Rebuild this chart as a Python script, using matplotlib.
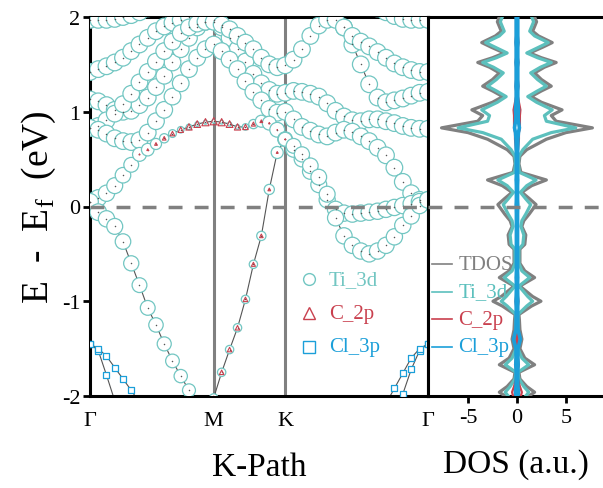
import matplotlib
matplotlib.use("Agg")
import matplotlib.pyplot as plt
import numpy as np

plt.rcParams["font.family"] = "Liberation Serif"
plt.rcParams["mathtext.fontset"] = "custom"
plt.rcParams["mathtext.rm"] = "Liberation Serif"

TEAL = "#72c6c2"
RED = "#c9404e"
BLUE = "#1b9fd9"
GRAY = "#808080"

# k-path G-M-K-G (hexagonal BZ, units of |GM|)
k_gm = np.linspace(0, 1, 16)
k_mk = np.linspace(1, 1 + 1 / np.sqrt(3), 10)[1:]
k_kg = np.linspace(1 + 1 / np.sqrt(3), 1 + np.sqrt(3), 18)[1:]
kpath = np.concatenate([k_gm, k_mk, k_kg])
k_ticks = [0, 1, 1 + 1 / np.sqrt(3), 1 + np.sqrt(3)]
k_labels = ["Γ", "M", "K", "Γ"]

# band energies (eV) along the path: 16 G-M, 9 M-K, 17 K-G points
band1 = [0.05, -0.06, -0.13, -0.21, -0.37, -0.60, -0.83, -1.07, -1.25, -1.45, -1.63, -1.79, -1.94, -2.10, -2.16, -2.02,
         -1.75, -1.51, -1.28, -0.98, -0.61, -0.31, 0.18, 0.57, 0.71,
         0.64, 0.55, 0.43, 0.31, 0.13, -0.12, -0.31, -0.41, -0.47, -0.50, -0.47, -0.41, -0.32, -0.20, -0.10, 0.01, 0.07]
band2 = [0.05, 0.09, 0.14, 0.22, 0.33, 0.44, 0.55, 0.60, 0.66, 0.72, 0.77, 0.81, 0.84, 0.87, 0.89, 0.90,
         0.89, 0.87, 0.84, 0.84, 0.87, 0.90, 0.88, 0.81, 0.71,
         0.60, 0.50, 0.37, 0.23, 0.07, -0.03, -0.07, -0.08, -0.07, -0.06, -0.05, -0.03, -0.01, 0.01, 0.03, 0.05, 0.07]
band3 = [0.83, 0.81, 0.77, 0.72, 0.69, 0.68, 0.70, 0.78, 0.90, 1.02, 1.16, 1.30, 1.45, 1.57, 1.66, 1.71,
         1.64, 1.55, 1.45, 1.32, 1.21, 1.12, 1.03, 0.99, 1.00,
         0.92, 0.84, 0.80, 0.76, 0.74, 0.78, 0.81, 0.79, 0.74, 0.69, 0.62, 0.54, 0.41, 0.26, 0.14, 0.07, 0.05]
band4 = [0.83, 0.85, 0.91, 0.98, 1.08, 1.19, 1.31, 1.42, 1.53, 1.64, 1.74, 1.83, 1.89, 1.93, 1.95, 1.95,
         1.92, 1.87, 1.80, 1.73, 1.66, 1.57, 1.50, 1.47, 1.49,
         1.55, 1.66, 1.80, 1.91, 1.97, 1.97, 1.89, 1.80, 1.74, 1.69, 1.63, 1.57, 1.51, 1.47, 1.44, 1.42, 1.42]
band5 = [1.13, 1.11, 1.07, 1.02, 1.00, 1.01, 1.07, 1.15, 1.26, 1.38, 1.52, 1.66, 1.78, 1.89, 1.95, 1.97,
         1.89, 1.78, 1.66, 1.53, 1.40, 1.30, 1.23, 1.19, 1.20,
         1.22, 1.21, 1.19, 1.16, 1.09, 1.01, 0.95, 0.91, 0.90, 0.92, 0.92, 0.90, 0.88, 0.85, 0.83, 0.82, 0.82]
band6 = [1.42, 1.45, 1.48, 1.52, 1.57, 1.64, 1.71, 1.78, 1.85, 1.90, 1.94, 1.97, 2.00, 2.03, 2.06, 2.08,
         2.12, 2.16, 2.20, 2.24, 2.27, 2.30, 2.32, 2.33, 2.33,
         2.32, 2.30, 2.26, 2.20, 2.12, 2.03, 1.89, 1.71, 1.50, 1.29, 1.15, 1.10, 1.12, 1.14, 1.17, 1.20, 1.21]
band7 = [1.97, 1.97, 1.97, 1.98, 2.00, 2.02, 2.05, 2.09, 2.13, 2.17, 2.21, 2.25, 2.28, 2.31, 2.33, 2.34,
         2.35, 2.36, 2.37, 2.38, 2.39, 2.40, 2.40, 2.40, 2.40,
         2.40, 2.40, 2.39, 2.38, 2.36, 2.33, 2.29, 2.24, 2.19, 2.14, 2.09, 2.05, 2.01, 1.98, 1.97, 1.97, 1.97]
cl_band1 = [-1.45, -1.52, -1.78, -2.05, -2.30, -2.50, -2.60, -2.60, -2.60, -2.60, -2.60, -2.60, -2.60, -2.60, -2.60, -2.60,
            -2.60, -2.60, -2.60, -2.60, -2.60, -2.60, -2.60, -2.60, -2.60,
            -2.60, -2.60, -2.60, -2.60, -2.60, -2.60, -2.60, -2.60, -2.60, -2.60, -2.55, -2.45, -2.20, -1.98, -1.72, -1.52, -1.45]
cl_band2 = [-1.45, -1.50, -1.58, -1.70, -1.82, -1.94, -2.07, -2.20, -2.35, -2.50, -2.60, -2.60, -2.60, -2.60, -2.60, -2.60,
            -2.60, -2.60, -2.60, -2.60, -2.60, -2.60, -2.60, -2.60, -2.60,
            -2.60, -2.60, -2.60, -2.60, -2.60, -2.60, -2.60, -2.60, -2.60, -2.45, -2.25, -2.08, -1.92, -1.76, -1.60, -1.50, -1.45]

# orbital weights on the two lowest Ti bands
ti_w1 = [0.9, 0.9, 0.88, 0.86, 0.84, 0.82, 0.8, 0.8, 0.78, 0.76, 0.74, 0.72, 0.7, 0.6, 0.5, 0.45,
         0.45, 0.45, 0.45, 0.45, 0.45, 0.5, 0.55, 0.65, 0.75,
         0.8, 0.82, 0.84, 0.85, 0.86, 0.87, 0.88, 0.88, 0.88, 0.88, 0.88, 0.88, 0.88, 0.88, 0.88, 0.88, 0.9]
c_w1 = [0, 0, 0, 0, 0, 0, 0, 0, 0, 0, 0, 0, 0, 0.2, 0.3, 0.4,
        0.5, 0.5, 0.5, 0.5, 0.45, 0.4, 0.3, 0.2, 0.1,
        0, 0, 0, 0, 0, 0, 0, 0, 0, 0, 0, 0, 0, 0, 0, 0, 0]
ti_w2 = [0.9, 0.9, 0.88, 0.86, 0.84, 0.8, 0.75, 0.68, 0.6, 0.5, 0.42, 0.35, 0.3, 0.25, 0.22, 0.2,
         0.2, 0.22, 0.25, 0.35, 0.5, 0.65, 0.75, 0.8, 0.8,
         0.82, 0.84, 0.85, 0.86, 0.87, 0.88, 0.88, 0.88, 0.88, 0.88, 0.88, 0.88, 0.88, 0.88, 0.88, 0.9, 0.9]
c_w2 = [0, 0, 0, 0, 0, 0, 0.1, 0.2, 0.3, 0.4, 0.5, 0.6, 0.7, 0.75, 0.8, 0.8,
        0.8, 0.75, 0.7, 0.6, 0.45, 0.3, 0.15, 0.05, 0,
        0, 0, 0, 0, 0, 0, 0, 0, 0, 0, 0, 0, 0, 0, 0, 0, 0]

# projected DOS (a.u.), drawn mirrored about zero
dos_e = [-2.00, -1.96, -1.90, -1.82, -1.75, -1.67, -1.60, -1.50, -1.40, -1.30, -1.20, -1.14, -1.05, -1.00, -0.95,
         -0.84, -0.75, -0.68, -0.60, -0.45, -0.40, -0.30, -0.21, -0.15, -0.08, 0.02, 0.08, 0.15, 0.22, 0.28,
         0.36, 0.45, 0.53, 0.60, 0.71, 0.78, 0.83, 0.90, 0.96, 1.02, 1.10, 1.16, 1.22, 1.27, 1.34, 1.41, 1.47,
         1.52, 1.57, 1.62, 1.68, 1.73, 1.80, 1.85, 1.90, 1.95, 2.00]
tdos = [1.2, 1.8, 1.0, 0.3, 0.2, 1.8, 0.8, 0.3, 0.5, 0.3, 0.25, 0.2, 1.5, 2.45, 1.6,
        0.3, 1.8, 0.8, 0.3, 0.3, 0.8, 0.9, 0.5, 0.7, 1.25, 1.95, 1.3, 0.5, 1.5, 3.0,
        0.4, 0.2, 0.3, 1.0, 3.0, 5.0, 7.7, 4.0, 3.5, 4.6, 2.5, 1.45, 2.5, 3.5, 2.5, 1.8, 2.8,
        4.0, 2.5, 1.3, 2.6, 3.6, 2.2, 1.6, 1.8, 2.0, 1.8]
ti_3d = [0.9, 1.2, 0.7, 0.2, 0.1, 1.2, 0.5, 0.1, 0.15, 0.1, 0.1, 0.1, 1.0, 1.6, 1.1,
         0.2, 1.3, 0.5, 0.2, 0.2, 0.6, 0.7, 0.4, 0.5, 0.9, 1.4, 0.9, 0.35, 1.0, 1.95,
         0.25, 0.15, 0.2, 0.6, 1.6, 3.5, 6.0, 3.0, 2.8, 3.6, 2.0, 1.1, 2.1, 3.0, 2.1, 1.4, 2.4,
         3.5, 2.1, 1.0, 2.2, 3.2, 1.8, 1.3, 1.5, 1.7, 1.5]
c_2p = [0.4, 0.5, 0.3, 0.1, 0.05, 0.2, 0.1, 0.05, 0.05, 0.05, 0.05, 0.05, 0.1, 0.15, 0.1,
        0.05, 0.1, 0.05, 0.05, 0.05, 0.05, 0.05, 0.05, 0.05, 0.05, 0.1, 0.05, 0.05, 0.05, 0.1,
        0.05, 0.05, 0.05, 0.1, 0.2, 0.2, 0.3, 0.3, 0.3, 0.35, 0.2, 0.1, 0.1, 0.15, 0.1, 0.1, 0.1,
        0.15, 0.1, 0.1, 0.1, 0.15, 0.1, 0.1, 0.1, 0.1, 0.1]
cl_3p = [0.1, 0.15, 0.1, 0.08, 0.08, 0.12, 0.1, 0.1, 0.35, 0.1, 0.08, 0.08, 0.08, 0.1, 0.08,
         0.06, 0.08, 0.06, 0.06, 0.06, 0.06, 0.06, 0.06, 0.06, 0.06, 0.08, 0.06, 0.06, 0.06, 0.08,
         0.06, 0.06, 0.06, 0.08, 0.1, 0.15, 0.25, 0.15, 0.12, 0.15, 0.1, 0.08, 0.08, 0.1, 0.08, 0.08, 0.08,
         0.1, 0.08, 0.08, 0.08, 0.1, 0.08, 0.08, 0.08, 0.08, 0.08]


def px_area(d):
    # marker diameter in pixels (dpi 100) -> scatter area in pt^2
    return (np.asarray(d) * 0.72) ** 2


fig = plt.figure(figsize=(6.03, 4.89), dpi=100)
ax = fig.add_axes([90 / 603, 92 / 489, 338 / 603, 379 / 489])
ax2 = fig.add_axes([428 / 603, 92 / 489, 175 / 603, 379 / 489])

ti_bands = [(band1, ti_w1), (band2, ti_w2), (band3, None), (band4, None),
            (band5, None), (band6, None), (band7, None)]
for e, _ in ti_bands:
    ax.plot(kpath, e, color="#555555", lw=0.8, zorder=2)
for e in (cl_band1, cl_band2):
    ax.plot(kpath, e, color="#555555", lw=0.8, zorder=2)

for e, w in ti_bands[::-1]:
    w = np.full(len(kpath), 0.9) if w is None else np.asarray(w)
    ax.scatter(kpath, e, s=px_area(18.5 * w), facecolors="white", edgecolors=TEAL,
               linewidths=0.9, zorder=3)
    ax.scatter(kpath, e, s=1.2, color="#555555", zorder=4, linewidths=0)

for e, w in ((band1, c_w1), (band2, c_w2)):
    w = np.asarray(w)
    m = w > 0
    ax.scatter(kpath[m], np.asarray(e)[m], s=px_area(9 * w[m]), marker="^",
               facecolors="none", edgecolors=RED, linewidths=0.8, zorder=5)

for e in (cl_band1, cl_band2):
    ax.scatter(kpath, e, s=px_area(6), marker="s", facecolors="white",
               edgecolors=BLUE, linewidths=0.9, zorder=5)

for kv in k_ticks[1:3]:
    ax.axvline(kv, color=GRAY, lw=2.2, zorder=1)
ax.axhline(0, color=GRAY, lw=2.5, dashes=(4, 3.5), zorder=6)

ax.set_xlim(0, 1 + np.sqrt(3))
ax.set_ylim(-2, 2)
ax.set_xticks(k_ticks)
ax.set_xticklabels(k_labels)
ax.set_yticks([-2, -1, 0, 1, 2])
ax.set_yticklabels(["-2", "-1", "0", "1", "2"])
ax.tick_params(axis="x", length=0, pad=11, labelsize=16)
ax.tick_params(axis="y", direction="out", length=5, width=2, pad=2, labelsize=16)
ax.set_xlabel("K-Path", fontsize=24, labelpad=15)
ax.set_ylabel("E  -  E$_\\mathregular{f}$  (eV)", fontsize=27, labelpad=3)
for s in ax.spines.values():
    s.set_linewidth(2.2)

# band legend
leg_rows = [("o", "Ti_3d", TEAL), ("^", "C_2p", RED), ("s", "Cl_3p", BLUE)]
for i, (mk, lab, col) in enumerate(leg_rows):
    y = -0.77 - 0.355 * i
    ax.plot([1.774], [y], marker=mk, ms=8.5, mfc="none", mec=col, mew=1.0, zorder=7)
    ax.text(1.93, y, lab, color=col, fontsize=15, va="center", ha="left", zorder=7)

# DOS panel
e = np.asarray(dos_e)
for vals, col, lw in ((tdos, GRAY, 2.3), (ti_3d, "#5cc0bd", 2.3), (c_2p, RED, 1.6), (cl_3p, BLUE, 2.6)):
    v = np.asarray(vals)
    ax2.plot(v, e, color=col, lw=lw, zorder=3)
    ax2.plot(-v, e, color=col, lw=lw, zorder=3)
ax2.axhline(0, color=GRAY, lw=2.5, dashes=(4, 3.5), zorder=6)
ax2.set_xlim(-9.08, 8.78)
ax2.set_ylim(-2, 2)
ax2.set_xticks([-5, 0, 5])
ax2.set_xticklabels(["-5", "0", "5"])
ax2.set_yticks([])
ax2.tick_params(axis="x", direction="out", length=5, width=2, pad=4, labelsize=16)
ax2.set_xlabel("DOS (a.u.)", fontsize=24, labelpad=15)
for s in ax2.spines.values():
    s.set_linewidth(2.2)
ax2.spines["right"].set_visible(False)

dos_leg = [("TDOS", GRAY), ("Ti_3d", "#5cc0bd"), ("C_2p", RED), ("Cl_3p", BLUE)]
for i, (lab, col) in enumerate(dos_leg):
    y = -0.61 - 0.29 * i
    ax2.plot([-8.67, -6.63], [y, y], color=col, lw=1.2, zorder=7)
    ax2.text(-6.0, y, lab, color=col, fontsize=15, va="center", ha="left", zorder=7)

fig.savefig("out.png", dpi=100)
